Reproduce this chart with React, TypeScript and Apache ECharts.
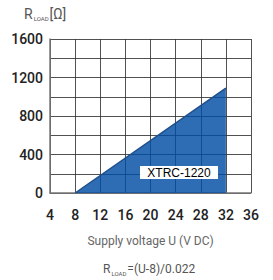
import React, { useEffect, useRef } from "react";
import * as echarts from "echarts";

const voltage = [8, 32];
const rLoad = [0, 1090];
const xTicks = [4, 8, 12, 16, 20, 24, 28, 32, 36];
const yTicks = [0, 400, 800, 1200, 1600];
const modelName = "XTRC-1220";

export default function App() {
  const ref = useRef<HTMLDivElement>(null);
  useEffect(() => {
    const chart = echarts.init(ref.current!, null, { renderer: "svg" });
    const font = "Roboto, 'DejaVu Sans', sans-serif";
    const gridLine = { color: "#333", width: 1, type: "solid", opacity: 0.85 };
    chart.setOption({
      animation: false,
      backgroundColor: "#ffffff",
      grid: { left: 50, right: 22, top: 39, bottom: 87 },
      xAxis: {
        type: "value",
        min: xTicks[0],
        max: xTicks[xTicks.length - 1],
        interval: 4,
        axisLine: { show: true, lineStyle: { color: "#777", width: 1.5 } },
        axisTick: { show: false },
        axisLabel: { color: "#222", fontSize: 14, fontFamily: font, margin: 15, fontWeight: 500 },
        splitLine: { show: true, lineStyle: gridLine },
        name: "Supply voltage U (V DC)",
        nameLocation: "middle",
        nameGap: 42,
        nameTextStyle: { color: "#666", fontSize: 12, fontFamily: font },
      },
      yAxis: {
        type: "value",
        min: yTicks[0],
        max: yTicks[yTicks.length - 1],
        interval: 200,
        axisLine: { show: true, lineStyle: { color: "#777", width: 1.5 } },
        axisTick: { show: false },
        axisLabel: {
          color: "#222",
          fontSize: 14,
          fontFamily: font,
          fontWeight: 500,
          margin: 7,
          formatter: (v: number) => (yTicks.includes(v) ? String(v) : ""),
        },
        splitLine: { show: true, lineStyle: gridLine },
      },
      series: [
        {
          type: "line",
          data: voltage.map((v, i) => [v, rLoad[i]]),
          symbol: "none",
          lineStyle: { color: "#1f4f8a", width: 1.5 },
          areaStyle: { color: "rgb(0,77,164)", opacity: 0.82 },
          z: 1,
        },
      ],
      graphic: [
        {
          type: "text",
          left: 24,
          top: 7,
          style: {
            text: "{r|R}{s|LOAD}{r|[Ω]}",
            rich: {
              r: { fontSize: 14, fill: "#555", fontFamily: font },
              s: { fontSize: 6, fill: "#555", fontFamily: font, padding: [9, 1, 0, 1] },
            },
          },
        },
        {
          type: "rect",
          z: 100,
          shape: { x: 140, y: 166, width: 78, height: 13 },
          style: { fill: "#fff" },
        },
        {
          type: "text",
          z: 101,
          x: 179,
          y: 172.5,
          style: {
            text: modelName,
            fontSize: 12,
            fontFamily: "'Liberation Sans', Arial, sans-serif",
            fill: "#000",
            align: "center",
            verticalAlign: "middle",
          },
        },
        {
          type: "text",
          left: 103,
          top: 263,
          style: {
            text: "{r|R}{s|LOAD}{r|=(U-8)/0.022}",
            rich: {
              r: { fontSize: 12, fill: "#555", fontFamily: font },
              s: { fontSize: 6, fill: "#555", fontFamily: font, padding: [8, 1, 0, 1] },
            },
          },
        },
      ],
    });
    return () => chart.dispose();
  }, []);
  return <div ref={ref} style={{ width: 273, height: 280, position: "absolute", left: 0, top: 0 }} />;
}
